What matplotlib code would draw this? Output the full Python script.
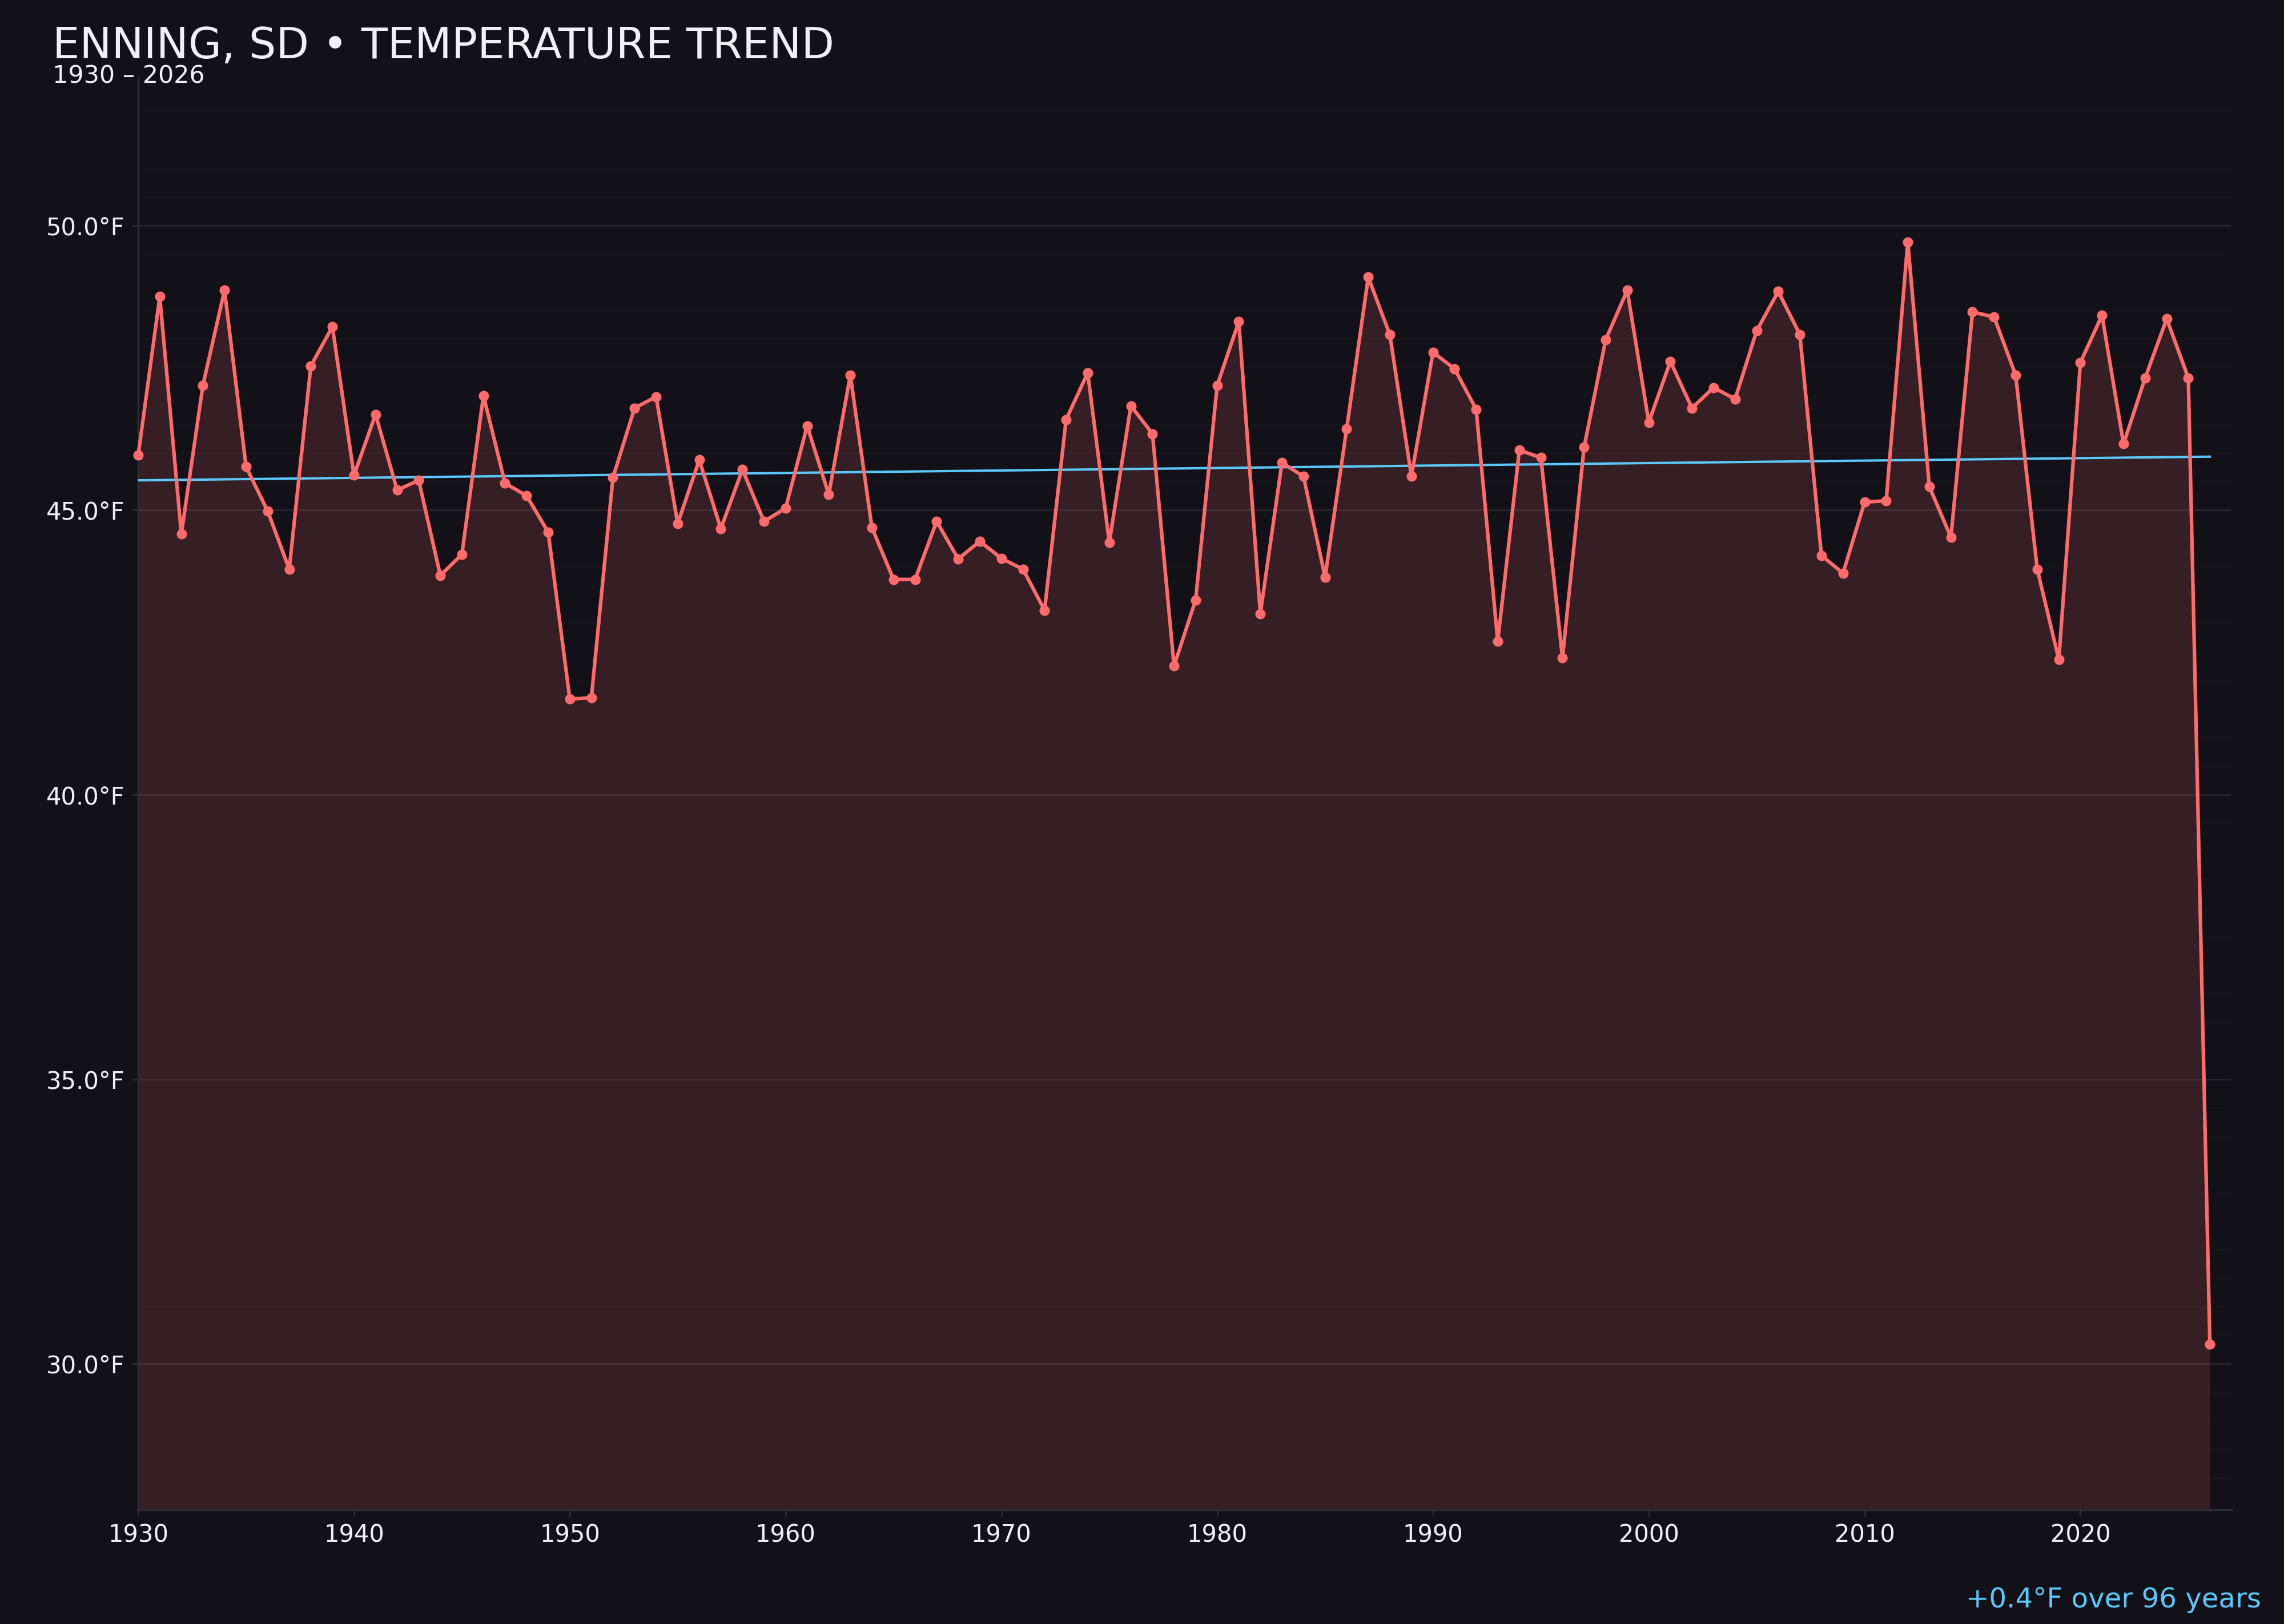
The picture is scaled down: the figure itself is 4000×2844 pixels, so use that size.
import numpy as np
import matplotlib.pyplot as plt
from matplotlib.ticker import MultipleLocator, FuncFormatter

# annual mean temperature
years = list(range(1930, 2027))
temps = [
    45.96, 48.75, 44.58, 47.19, 48.86, 45.76, 44.98, 43.96, 47.53, 48.22,
    45.61, 46.68, 45.35, 45.52, 43.85, 44.22, 47.01, 45.47, 45.25, 44.61,
    41.68, 41.70, 45.57, 46.79, 46.99, 44.76, 45.88, 44.67, 45.71, 44.80,
    45.03, 46.48, 45.27, 47.37, 44.69, 43.78, 43.78, 44.80, 44.14, 44.45,
    44.15, 43.96, 43.24, 46.59, 47.41, 44.43, 46.83, 46.34, 42.26, 43.42,
    47.19, 48.31, 43.18, 45.83, 45.59, 43.82, 46.43, 49.09, 48.08, 45.59,
    47.77, 47.48, 46.77, 42.69, 46.05, 45.92, 42.40, 46.10, 47.99, 48.86,
    46.54, 47.61, 46.79, 47.15, 46.95, 48.15, 48.84, 48.08, 44.20, 43.89,
    45.14, 45.16, 49.71, 45.41, 44.52, 48.48, 48.39, 47.37, 43.96, 42.37,
    47.59, 48.42, 46.16, 47.32, 48.36, 47.32, 30.34,
]

title = "ENNING, SD \u2022 TEMPERATURE TREND"
subtitle = "1930 \u2013 2026"
trend_note = "+0.4\u00b0F over 96 years"

BG = "#121118"
RED = "#ff6b6b"
BLUE = "#5ac8fa"
TXT = "#f0f0f5"
SPINE = "#2e2d35"

x = np.array(years)
y = np.array(temps)

fig = plt.figure(figsize=(16, 11.376), dpi=250, facecolor=BG)
ax = fig.add_axes([0.0605, 0.0703, 0.9165, 0.8826])
ax.set_facecolor(BG)

span = y.max() - y.min()
lo, hi = y.min() - 0.15 * span, y.max() + 0.15 * span

ax.fill_between(x, y, lo, color=RED, alpha=0.15, linewidth=0, zorder=2)
ax.plot(x, y, color=RED, lw=1.8, marker="o", ms=4.2, zorder=4, clip_on=False)

coef = np.polyfit(x, y, 1)
ax.plot(x, np.polyval(coef, x), color=BLUE, lw=1.2, zorder=3)

ax.set_xlim(1930, 2027)
ax.set_ylim(lo, hi)

ax.xaxis.set_major_locator(MultipleLocator(10))
ax.yaxis.set_major_locator(MultipleLocator(5))
ax.yaxis.set_minor_locator(MultipleLocator(0.5))
ax.yaxis.set_major_formatter(FuncFormatter(lambda v, p: f"{v:.1f}\u00b0F"))

ax.grid(axis="y", which="major", color="#25242b", lw=0.9, zorder=0)
ax.grid(axis="y", which="minor", color="#15141b", lw=0.6, zorder=0)
ax.set_axisbelow(True)

ax.tick_params(axis="both", which="major", colors=SPINE, labelcolor=TXT,
               labelsize=12, length=3.2, width=0.9, pad=3.5)
ax.tick_params(axis="y", which="minor", length=0)

for side in ("top", "right"):
    ax.spines[side].set_visible(False)
for side in ("left", "bottom"):
    ax.spines[side].set_color(SPINE)
    ax.spines[side].set_linewidth(1.0)

fig.text(0.023, 0.964, title, color=TXT, fontsize=21.6, va="baseline")
fig.text(0.023, 0.949, subtitle, color=TXT, fontsize=12.3, va="baseline")
fig.text(0.990, 0.0102, trend_note, color=BLUE, fontsize=13.9,
         ha="right", va="baseline")

fig.savefig("out.png", dpi=250, facecolor=BG)
